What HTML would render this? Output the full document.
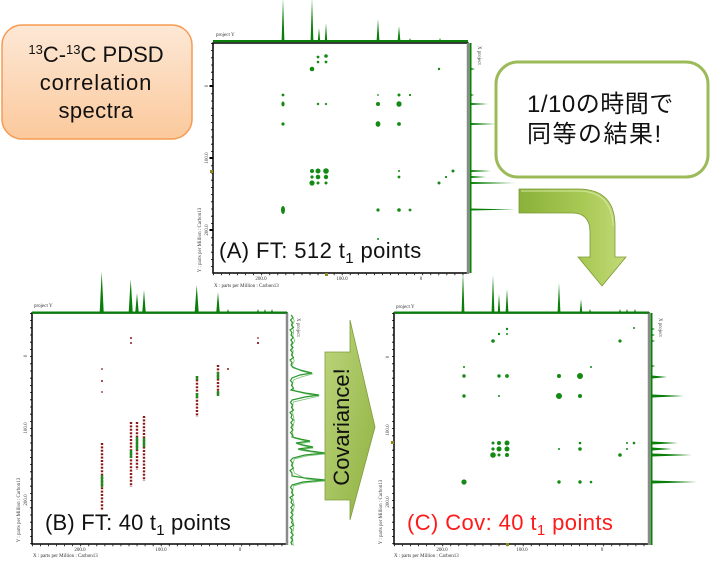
<!DOCTYPE html>
<html><head><meta charset="utf-8"><style>
html,body{margin:0;padding:0;background:#fff;}
svg{display:block;}
.s{font-family:"Liberation Serif",serif;font-size:5px;fill:#333;}
</style></head><body>
<svg width="710" height="563" viewBox="0 0 710 563" xmlns="http://www.w3.org/2000/svg">
<defs>
<linearGradient id="og" x1="0" y1="0" x2="0" y2="1"><stop offset="0" stop-color="#fde8d6"/><stop offset="1" stop-color="#fbc99c"/></linearGradient>
<linearGradient id="ag" x1="0" y1="0" x2="1" y2="0"><stop offset="0" stop-color="#8ab13a"/><stop offset="0.6" stop-color="#a9c955"/><stop offset="1" stop-color="#c2da78"/></linearGradient>
<linearGradient id="cg" x1="0" y1="0" x2="1" y2="1"><stop offset="0" stop-color="#bcd57c"/><stop offset="1" stop-color="#8fb241"/></linearGradient>
</defs>
<rect width="710" height="563" fill="#fff"/>

<!-- top-left box -->
<rect x="2" y="25" width="190" height="114" rx="20" fill="url(#og)" stroke="#f79a52" stroke-width="1.5"/>
<g font-family="Liberation Sans, sans-serif" font-size="22" fill="#111" text-anchor="middle">
<text x="96" y="62"><tspan font-size="13" dy="-8">13</tspan><tspan dy="8">C-</tspan><tspan font-size="13" dy="-8">13</tspan><tspan dy="8">C PDSD</tspan></text>
<text x="96" y="90" letter-spacing="0.9">correlation</text>
<text x="96" y="118" letter-spacing="0.4">spectra</text>
</g>

<!-- ============ PANEL A ============ -->
<rect x="213" y="43" width="255" height="230" fill="#fff" stroke="#000" stroke-width="1.5"/>
<line x1="468" y1="43" x2="468" y2="274" stroke="#8a8a8a" stroke-width="2.5"/>
<line x1="211.8" y1="43" x2="211.8" y2="273" stroke="#000" stroke-width="1.6" stroke-dasharray="0.8 6.4"/>
<line x1="213" y1="274.5" x2="468" y2="274.5" stroke="#000" stroke-width="1.6" stroke-dasharray="0.8 7.25"/>
<rect x="209.5" y="85" width="3" height="2" fill="#000"/>
<rect x="209.5" y="157" width="3" height="2" fill="#000"/>
<rect x="209.5" y="229" width="3" height="2" fill="#000"/>
<rect x="210" y="170" width="3" height="3" fill="#8a8a20"/>
<rect x="325" y="273" width="3" height="3" fill="#8a8a20"/>
<text class="s" x="216" y="36">project Y</text>
<text class="s" transform="translate(208,86) rotate(-90)" text-anchor="middle">0</text>
<text class="s" transform="translate(208,158) rotate(-90)" text-anchor="middle">100.0</text>
<text class="s" transform="translate(208,230) rotate(-90)" text-anchor="middle">200.0</text>
<text class="s" transform="translate(201,240) rotate(-90)" text-anchor="middle">Y : parts per Million : Carbon13</text>
<text class="s" x="261" y="280" text-anchor="middle">200.0</text>
<text class="s" x="342" y="280" text-anchor="middle">100.0</text>
<text class="s" x="421" y="280" text-anchor="middle">0</text>
<text class="s" x="214" y="287">X : parts per Million : Carbon13</text>
<text class="s" transform="translate(478,46) rotate(90)">X project</text>
<!-- top projection A -->
<rect x="213" y="40" width="255" height="2.2" fill="#0a800a"/>
<g fill="#0a800a">
<path d="M281.6,41 L283,-2 L284.4,41 Z"/>
<path d="M310.6,41 L312,-2 L313.4,41 Z"/>
<path d="M317.8,41 L319,28 L320.2,41 Z"/>
<path d="M324.8,41 L326,23 L327.2,41 Z"/>
<path d="M376.6,41 L378,19 L379.4,41 Z"/>
<path d="M397.6,41 L399,26 L400.4,41 Z"/>
<path d="M409,41 L410,38 L411,41 Z"/>
<path d="M439,41 L440,38 L441,41 Z"/>
</g>
<!-- right projection A -->
<rect x="469.5" y="43" width="2" height="230" fill="#0a800a"/>
<g fill="#0a800a">
<path d="M471,68 L475,69 L471,70 Z"/>
<path d="M471,94 L474,95 L471,96 Z"/>
<path d="M471,103 L488,104 L471,105 Z"/>
<path d="M471,123 L496,124 L471,125 Z"/>
<path d="M471,170 L491,171 L471,172 Z"/>
<path d="M471,176 L486,177 L471,178 Z"/>
<path d="M471,182 L516,183 L471,184 Z"/>
<path d="M471,208.5 L516,209.5 L471,210.5 Z"/>
</g>
<!-- 2D peaks A -->
<g transform="translate(213,43)" fill="#138a13">
<circle cx="105" cy="14" r="1.4"/><circle cx="113" cy="13" r="1.8"/>
<circle cx="105" cy="19" r="1.3"/><circle cx="113" cy="19" r="1.4"/>
<circle cx="99" cy="26" r="2.3"/><circle cx="226" cy="26" r="1.2"/>
<circle cx="70" cy="52" r="1.4"/><circle cx="165" cy="52" r="0.9"/><circle cx="186" cy="52" r="1.5"/><circle cx="197" cy="52" r="1.1"/>
<ellipse cx="70" cy="61" rx="1.6" ry="2.5"/><circle cx="105" cy="61" r="1.2"/><circle cx="113" cy="61" r="1.1"/><circle cx="165" cy="61" r="2"/><ellipse cx="186" cy="61" rx="2.6" ry="2.8"/>
<circle cx="70" cy="81" r="1.6"/><ellipse cx="165" cy="81" rx="2.4" ry="2.9"/><circle cx="186" cy="81" r="1.9"/>
<circle cx="99" cy="128" r="2"/><circle cx="105" cy="128" r="2.5"/><circle cx="113" cy="128" r="2.8"/><circle cx="186" cy="128" r="1"/><circle cx="240" cy="128" r="1.5"/>
<circle cx="99" cy="134" r="1.6"/><circle cx="105" cy="134" r="2.3"/><circle cx="113" cy="134" r="2.2"/><circle cx="186" cy="134" r="1.4"/><circle cx="233" cy="134" r="1.1"/>
<circle cx="99" cy="140" r="2.6"/><circle cx="105" cy="140" r="1.5"/><circle cx="113" cy="140" r="1.5"/><circle cx="226" cy="140" r="1.5"/>
<ellipse cx="70" cy="167" rx="2" ry="4"/><circle cx="165" cy="167" r="1.6"/><circle cx="186" cy="167" r="1.8"/><circle cx="197" cy="167" r="1.4"/>
<circle cx="165" cy="196" r="1"/>
</g>
<text x="219" y="258" font-family="Liberation Sans, sans-serif" font-size="22" fill="#111" letter-spacing="0.4">(A) FT: 512 t<tspan font-size="15" dy="5">1</tspan><tspan dy="-5"> points</tspan></text>

<!-- ============ PANEL B ============ -->
<rect x="32" y="313" width="255" height="231" fill="#fff" stroke="#000" stroke-width="1.5"/>
<line x1="287" y1="313" x2="287" y2="545" stroke="#8a8a8a" stroke-width="2.5"/>
<line x1="30.8" y1="313" x2="30.8" y2="544" stroke="#000" stroke-width="1.6" stroke-dasharray="0.8 6.4"/>
<line x1="32" y1="545.5" x2="287" y2="545.5" stroke="#000" stroke-width="1.6" stroke-dasharray="0.8 7.25"/>
<text class="s" x="34" y="307">project Y</text>
<text class="s" transform="translate(27,356) rotate(-90)" text-anchor="middle">0</text>
<text class="s" transform="translate(27,428) rotate(-90)" text-anchor="middle">100.0</text>
<text class="s" transform="translate(27,500) rotate(-90)" text-anchor="middle">200.0</text>
<text class="s" transform="translate(20,510) rotate(-90)" text-anchor="middle">Y : parts per Million : Carbon13</text>
<text class="s" x="80" y="551" text-anchor="middle">200.0</text>
<text class="s" x="161" y="551" text-anchor="middle">100.0</text>
<text class="s" x="240" y="551" text-anchor="middle">0</text>
<text class="s" x="33" y="557">X : parts per Million : Carbon13</text>
<text class="s" transform="translate(297,318) rotate(90)">X project</text>
<rect x="32" y="311.5" width="255" height="2.2" fill="#0a800a"/>
<g fill="#0a800a">
<path d="M99.7,312 L101.7,271.7 L103.7,312 Z"/>
<path d="M128.7,312 L130.7,279 L132.7,312 Z"/>
<path d="M135.3,312 L137,293 L138.7,312 Z"/>
<path d="M142.3,312 L144,290 L145.7,312 Z"/>
<path d="M194.7,312 L196.7,285 L198.7,312 Z"/>
<path d="M216.3,312 L218,292 L219.7,312 Z"/>
<path d="M227,312 L228,309 L229,312 Z"/>
<path d="M257,312 L258,309 L259,312 Z"/>
<path d="M264,312 L265,309 L266,312 Z"/>
<path d="M271,312 L272,309 L273,312 Z"/>
</g>
<polyline fill="none" stroke="#2a962a" stroke-width="1.2" points="291,315 293,317.5 290.5,320 292.5,322.5 291.5,325 293.5,327.5 290,330 292,332.5 291,335 293.2,337.5 290.8,340 292.6,342.5 291,345 293,347.5 290.5,350 292.5,352.5 291.5,355 293.5,357.5 290,360 292,362.5 291,365 293,367.5 300,370 312,373 300,375 292,378 290.5,380.5 292.5,383 291.5,385.5 293.5,388 291,390 305,393 319,395 305,397 292,400 290.5,402.5 292.5,405 291.5,407.5 293.5,410 290,412.5 292,415 291,417.5 293.2,420 290.8,422.5 292.6,425 291,427.5 293,430 290.5,432.5 292.5,435 292,437 300,439 310,441 296,443 303,445 313,447 298,449 310,451 325,453 305,455 293,458 290.5,460.5 292.5,463 291.5,465.5 293.5,468 290,470.5 292,473 292,476 305,478 325,480 303,482 292,485 290.5,487.5 292.5,490 291.5,492.5 293.5,495 290,497.5 292,500 291,502.5 293.2,505 290.8,507.5 292.6,510 291,512.5 293,515 290.5,517.5 292.5,520 291.5,522.5 293.5,525 290,527.5 292,530 291,532.5 293.2,535 290.8,537.5 292.6,540 291,542.5 292,545"/>
<polyline fill="none" stroke="#3aa63a" stroke-width="0.8" opacity="0.7" transform="translate(1.3,1)" points="291,315 293,320 290.5,325 292.5,330 291.5,335 293.5,340 290,345 292,350 291,355 293,360 290.5,365 300,370 311,373 300,376 292,379 291,385 293,390 305,393 318,395 305,398 292,401 291,410 293,420 290.8,430 292.5,437 300,439 309,441 296,443 303,445 312,447 298,449 310,451 324,453 305,455 293,458 291,465 293,472 305,478 324,480 303,482 292,485 291,495 293,505 290.8,515 292.6,525 291,535 292,545"/>
<g transform="translate(32,313)">
<g stroke="#8b1a1a" stroke-width="2.4" stroke-dasharray="2 1.4" fill="none">
<line x1="70" y1="130" x2="70" y2="197"/>
<line x1="99" y1="109" x2="99" y2="174"/>
<line x1="105" y1="109" x2="105" y2="157"/>
<line x1="112" y1="103" x2="112" y2="168"/>
<line x1="165" y1="63" x2="165" y2="104"/>
<line x1="186" y1="52" x2="186" y2="83"/>
</g>
<g fill="#1e8c1e">
<rect x="68.8" y="162" width="2.4" height="12"/>
<rect x="97.8" y="137" width="2.4" height="8"/>
<rect x="103.8" y="124" width="2.4" height="13"/>
<rect x="110.8" y="125" width="2.4" height="9"/>
<rect x="163.8" y="63" width="2.4" height="4"/>
<rect x="163.8" y="80" width="2.4" height="5"/>
<rect x="184.8" y="59" width="2.4" height="7"/>
<rect x="184.8" y="78" width="2.4" height="5"/>
</g>
<g fill="#8b1a1a">
<circle cx="70" cy="56" r="0.9"/><circle cx="70" cy="68" r="1"/><circle cx="70" cy="79" r="0.9"/>
<circle cx="99" cy="25" r="1"/><circle cx="99" cy="30" r="1"/>
<circle cx="226" cy="25" r="0.9"/><circle cx="226" cy="30" r="1.1"/>
<circle cx="196" cy="56" r="1"/>
</g>
</g>
<text x="45" y="530" font-family="Liberation Sans, sans-serif" font-size="22" fill="#111" letter-spacing="0.2">(B) FT: 40 t<tspan font-size="15" dy="5">1</tspan><tspan dy="-5"> points</tspan></text>

<!-- ============ PANEL C ============ -->
<rect x="394" y="313" width="255" height="231" fill="#fff" stroke="#000" stroke-width="1.5"/>
<line x1="649" y1="313" x2="649" y2="545" stroke="#8a8a8a" stroke-width="2.5"/>
<line x1="392.8" y1="313" x2="392.8" y2="544" stroke="#000" stroke-width="1.6" stroke-dasharray="0.8 6.4"/>
<line x1="394" y1="545.5" x2="649" y2="545.5" stroke="#000" stroke-width="1.6" stroke-dasharray="0.8 7.25"/>
<rect x="391" y="441" width="3" height="3" fill="#8a8a20"/>
<rect x="506" y="543" width="3" height="3" fill="#8a8a20"/>
<text class="s" x="396" y="308">project Y</text>
<text class="s" transform="translate(389,357) rotate(-90)" text-anchor="middle">0</text>
<text class="s" transform="translate(389,430) rotate(-90)" text-anchor="middle">100.0</text>
<text class="s" transform="translate(389,502) rotate(-90)" text-anchor="middle">200.0</text>
<text class="s" transform="translate(382,512) rotate(-90)" text-anchor="middle">Y : parts per Million : Carbon13</text>
<text class="s" x="442" y="551" text-anchor="middle">200.0</text>
<text class="s" x="522" y="551" text-anchor="middle">100.0</text>
<text class="s" x="602" y="551" text-anchor="middle">0</text>
<text class="s" x="394" y="557">X : parts per Million : Carbon13</text>
<text class="s" transform="translate(659,318) rotate(90)">X project</text>
<rect x="394" y="311.5" width="255" height="2.2" fill="#0a800a"/>
<g fill="#0a800a">
<path d="M461.6,312 L463,271 L464.4,312 Z"/>
<path d="M491.6,312 L493,275 L494.4,312 Z"/>
<path d="M497.8,312 L499,294 L500.2,312 Z"/>
<path d="M505.6,312 L507,289 L508.4,312 Z"/>
<path d="M557.6,312 L559,283 L560.4,312 Z"/>
<path d="M579.8,312 L581,299 L582.2,312 Z"/>
<path d="M589,312 L590,309 L591,312 Z"/>
<path d="M619,312 L620,309 L621,312 Z"/>
<path d="M626,312 L627,309 L628,312 Z"/>
<path d="M634,312 L635,309 L636,312 Z"/>
</g>
<rect x="650.5" y="313" width="2" height="232" fill="#0a800a"/>
<g fill="#0a800a">
<path d="M652,328 L655,329 L652,330 Z"/>
<path d="M652,334 L655,335 L652,336 Z"/>
<path d="M652,340 L655,341 L652,342 Z"/>
<path d="M652,365 L655,366 L652,367 Z"/>
<path d="M652,375.5 L667,377 L652,378.5 Z"/>
<path d="M652,394.5 L684,396 L652,397.5 Z"/>
<path d="M652,441.5 L678,443 L652,444.5 Z"/>
<path d="M652,447.5 L672,449 L652,450.5 Z"/>
<path d="M652,453.5 L692,455 L652,456.5 Z"/>
<path d="M652,480.5 L697,482 L652,483.5 Z"/>
</g>
<g transform="translate(394,315)" fill="#138a13">
<circle cx="113" cy="14" r="1.2"/><circle cx="105" cy="19" r="1.2"/><circle cx="113" cy="19" r="1"/>
<circle cx="99" cy="26" r="1.8"/><circle cx="226" cy="26" r="1.6"/><circle cx="240" cy="13" r="1"/>
<circle cx="70" cy="52" r="1"/><circle cx="197" cy="52" r="1"/>
<circle cx="70" cy="61" r="1.7"/><circle cx="105" cy="61" r="1.7"/><circle cx="113" cy="61" r="1.9"/><circle cx="165" cy="61" r="2"/><circle cx="186" cy="61" r="3"/>
<circle cx="70" cy="81" r="1.7"/><circle cx="105" cy="81" r="1"/><circle cx="165" cy="81" r="3"/><circle cx="186" cy="81" r="2"/>
<circle cx="99" cy="128" r="1.5"/><circle cx="105" cy="128" r="2"/><circle cx="113" cy="128" r="2.5"/><circle cx="186" cy="128" r="1.3"/><circle cx="233" cy="128" r="1"/><circle cx="240" cy="128" r="1.3"/>
<circle cx="99" cy="134" r="1.6"/><circle cx="105" cy="134" r="2.5"/><circle cx="113" cy="134" r="2.5"/><circle cx="165" cy="134" r="1"/><circle cx="186" cy="134" r="1.8"/><circle cx="233" cy="134" r="1"/>
<circle cx="99" cy="140" r="2.8"/><circle cx="105" cy="140" r="1.5"/><circle cx="113" cy="140" r="2"/><circle cx="226" cy="140" r="1.8"/>
<circle cx="70" cy="167" r="2.6"/><circle cx="165" cy="167" r="1.7"/><circle cx="186" cy="167" r="1.7"/><circle cx="197" cy="167" r="1.3"/>
</g>
<text x="407" y="530" font-family="Liberation Sans, sans-serif" font-size="22" fill="#ff1a1a" letter-spacing="0.4">(C) Cov: 40 t<tspan font-size="15" dy="5">1</tspan><tspan dy="-5"> points</tspan></text>

<!-- callout -->
<rect x="496" y="62" width="212" height="115" rx="22" fill="#fff" stroke="#9bbb59" stroke-width="3"/>
<g font-family="Liberation Sans, 'Noto Sans CJK JP', sans-serif" font-size="24" fill="#111">
<text x="527" y="112" letter-spacing="0.5">1/10の時間で</text>
<text x="527" y="142" letter-spacing="1.5">同等の結果!</text>
</g>

<!-- curved arrow -->
<path d="M519,189 L578,189 Q615,189 615,226 L615,257 L626,257 L602,286 L578,257 L590,257 L590,232 Q590,213 572,213 L519,213 Z" fill="url(#ag)" stroke="#7a9a35" stroke-width="0.8"/>
<path d="M521,191 L578,191 Q612,191 613,226" fill="none" stroke="#d6e8a0" stroke-width="1.2" opacity="0.8"/>

<!-- covariance arrow -->
<path d="M325,352 L350,352 L350,320 L375,427 L350,520 L350,500 L325,500 Z" fill="url(#cg)" stroke="#7f9d3e" stroke-width="0.8"/>
<text transform="translate(349,427) rotate(-90)" text-anchor="middle" font-family="Liberation Sans, sans-serif" font-size="22" fill="#111">Covariance!</text>
</svg>
</body></html>
